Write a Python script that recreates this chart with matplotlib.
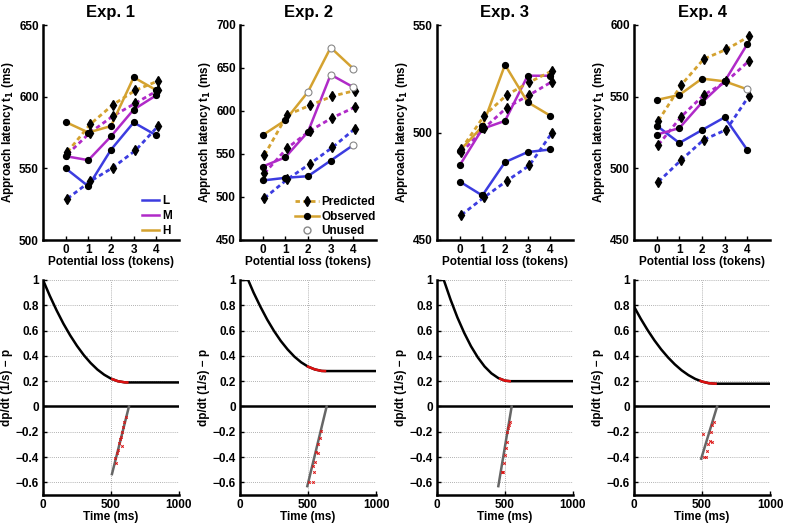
import numpy as np
import matplotlib
matplotlib.use("Agg")
import matplotlib.pyplot as plt
from matplotlib.lines import Line2D

plt.rcParams['font.family'] = ['Liberation Sans', 'DejaVu Sans']
plt.rcParams['font.weight'] = 'bold'
plt.rcParams['mathtext.default'] = 'bf'

# ---------------- data ----------------
titles = ["Exp. 1", "Exp. 2", "Exp. 3", "Exp. 4"]
loss = [0, 1, 2, 3, 4]
conds = ["L", "M", "H"]

obs = {
    1: {"L": [550, 537.5, 563, 582, 573], "M": [558.5, 555.7, 572.3, 591, 601], "H": [582.3, 575, 579.5, 613.5, 604.5]},
    2: {"L": [519.2, 522.3, 524.2, 542.3, 560.4], "M": [535.4, 546.2, 575.8, 642.3, 627.7], "H": [571.9, 589.2, 622.3, 673.8, 649.2]},
    3: {"L": [477.2, 470.7, 486.2, 490.9, 492.1], "M": [484.7, 501.7, 505.4, 526.4, 526.4], "H": [491.5, 502.8, 531.5, 514.1, 507.8]},
    4: {"L": [529.8, 517.7, 526.7, 535.6, 512.8], "M": [523.5, 528.1, 546, 560.7, 586.7], "H": [547.7, 551.2, 562.6, 560.7, 555.1]},
}
pred = {
    1: {"L": [528.9, 540.9, 550.5, 562.5, 579.5], "M": [559.8, 575, 586.4, 595.5, 604.5], "H": [561.4, 580.7, 594.3, 604.5, 611]},
    2: {"L": [498.8, 520.4, 538.5, 557.7, 579.6], "M": [527.7, 556.9, 576.9, 592.3, 604.6], "H": [548.8, 595.4, 606.5, 617.3, 623.8]},
    3: {"L": [461.7, 469.9, 477.5, 484.7, 500], "M": [490.7, 502, 511.6, 517.5, 523.7], "H": [492.4, 507.8, 517.5, 523.4, 528.7]},
    4: {"L": [490.7, 505.8, 520, 527, 550.7], "M": [516.5, 536, 551.2, 560.7, 575.1], "H": [533.3, 558.1, 576.3, 583, 592.1]},
}
# unused observed points: (condition, loss index)
unused = {
    1: [],
    2: [("H", 2), ("H", 3), ("H", 4), ("M", 3), ("M", 4), ("L", 4)],
    3: [],
    4: [("H", 4)],
}
ylims_top = {1: (500, 650), 2: (450, 700), 3: (450, 550), 4: (450, 600)}
yticks_top = {1: [500, 550, 600, 650], 2: [450, 500, 550, 600, 650, 700],
              3: [450, 500, 550], 4: [450, 500, 550, 600]}

# bottom panels: curve readings
curve_t = {
    1: [0, 50, 100, 150, 200, 250, 300, 350, 400, 450, 500, 550, 600, 620, 1000],
    2: [0, 60, 100, 150, 200, 250, 300, 350, 400, 450, 500, 550, 600, 625, 1000],
    3: [0, 50, 100, 150, 200, 250, 300, 350, 400, 450, 500, 535, 1000],
    4: [0, 50, 100, 150, 200, 250, 300, 350, 400, 450, 500, 550, 600, 1000],
}
curve_p = {
    1: [1.0, 0.875, 0.760, 0.655, 0.562, 0.479, 0.406, 0.344, 0.292, 0.251, 0.220, 0.200, 0.191, 0.19, 0.19],
    2: [1.0, 1.0, 0.90, 0.789, 0.687, 0.597, 0.518, 0.451, 0.394, 0.349, 0.315, 0.293, 0.281, 0.28, 0.28],
    3: [1.0, 1.0, 0.844, 0.704, 0.582, 0.476, 0.388, 0.316, 0.262, 0.225, 0.204, 0.20, 0.20],
    4: [0.79, 0.693, 0.604, 0.523, 0.451, 0.388, 0.333, 0.286, 0.248, 0.218, 0.197, 0.184, 0.18, 0.18],
}
red_range = {1: (510, 620), 2: (500, 625), 3: (465, 535), 4: (490, 600)}
fit_t = {1: [507, 632], 2: [495, 637], 3: [451, 549], 4: [494, 611]}
fit_y = {1: [-0.535, 0.0], 2: [-0.63, 0.0], 3: [-0.63, 0.0], 4: [-0.413, 0.0]}
dots_t = {
    1: [612, 596, 588, 580, 570, 565, 560, 578, 552, 545, 540, 533],
    2: [595, 590, 572, 560, 575, 548, 540, 545, 535, 505],
    3: [538, 530, 525, 518, 512, 506, 498, 492, 486, 480],
    4: [585, 575, 566, 572, 511, 558, 545, 540, 528, 515],
}
dots_y = {
    1: [-0.085, -0.12, -0.16, -0.2, -0.24, -0.26, -0.29, -0.31, -0.345, -0.37, -0.45, -0.41],
    2: [-0.19, -0.25, -0.3, -0.36, -0.37, -0.44, -0.47, -0.52, -0.6, -0.6],
    3: [-0.12, -0.15, -0.17, -0.2, -0.28, -0.33, -0.38, -0.45, -0.52, -0.52],
    4: [-0.12, -0.15, -0.2, -0.28, -0.22, -0.27, -0.3, -0.35, -0.4, -0.4],
}

colors = {"L": "#3c3ce0", "M": "#b02ac8", "H": "#d4a230"}
off = 0.08

fig = plt.figure(figsize=(7.86, 5.25), dpi=100)
lefts = [43, 240, 437, 634]
W = 136
for i, e in enumerate([1, 2, 3, 4]):
    ax = fig.add_axes([lefts[i] / 786, 1 - 240 / 525, W / 786, 215 / 525])
    for c in conds:
        xs = np.array(loss, dtype=float)
        ax.plot(xs + off, pred[e][c], color=colors[c], lw=2, ls=(0, (1.6, 1.2)), zorder=2)
        ax.plot(xs, obs[e][c], color=colors[c], lw=1.8, zorder=2)
        ax.plot(xs + off, pred[e][c], ls='none', marker='d', ms=5.5, color='black', zorder=4)
        un = [k for (cc, k) in unused[e] if cc == c]
        used = [k for k in range(5) if k not in un]
        ax.plot(xs[used], np.array(obs[e][c])[used], ls='none', marker='o', ms=4.2, color='black', zorder=4)
        if un:
            ax.plot(xs[un], np.array(obs[e][c])[un], ls='none', marker='o', ms=5, mfc='white', mec='#888888', mew=0.8, zorder=5)
    ax.set_xlim(-1, 5)
    ax.set_ylim(*ylims_top[e])
    ax.set_xticks(loss)
    ax.set_yticks(yticks_top[e])
    ax.spines['top'].set_visible(False)
    ax.spines['right'].set_visible(False)
    ax.spines['left'].set_linewidth(1.8)
    ax.spines['bottom'].set_linewidth(1.8)
    ax.tick_params(direction='in', length=3, width=1, labelsize=8.5, pad=3)
    for lab in ax.get_xticklabels() + ax.get_yticklabels():
        lab.set_fontweight('bold')
    ax.set_xlabel("Potential loss (tokens)", fontsize=8.5, fontweight='bold', labelpad=0)
    ax.set_ylabel(r"Approach latency t$_\mathbf{1}$ (ms)", fontsize=8.5, fontweight='bold', labelpad=2)
    ax.set_title(titles[i], fontsize=12, fontweight='bold', pad=6)
    if e == 1:
        hs = [Line2D([], [], color=colors[c], lw=1.8) for c in conds]
        ax.legend(hs, conds, loc='lower right', frameon=False, fontsize=8.5,
                  handlelength=1.4, handletextpad=0.3, labelspacing=0.25,
                  bbox_to_anchor=(1.0, -0.02), borderaxespad=0.2)
    if e == 2:
        hs = [Line2D([], [], color=colors["H"], lw=2, ls=(0, (1.6, 1.2)), marker='d', mfc='black', mec='black', ms=5.5),
              Line2D([], [], color=colors["H"], lw=1.8, marker='o', mfc='black', mec='black', ms=4.2),
              Line2D([], [], ls='none', marker='o', mfc='white', mec='#888888', ms=5)]
        ax.legend(hs, ["Predicted", "Observed", "Unused"], loc='lower right', frameon=False, fontsize=8.5,
                  handlelength=2.0, handletextpad=0.2, labelspacing=0.2,
                  bbox_to_anchor=(1.05, -0.02), borderaxespad=0.2)

    # bottom panel
    bx = fig.add_axes([lefts[i] / 786, 1 - 495 / 525, W / 786, 215 / 525])
    bx.grid(True, ls=(0, (1, 1.5)), color='#999999', lw=0.6)
    bx.axhline(0, color='black', lw=1.8, zorder=3)
    t = np.array(curve_t[e], dtype=float)
    p = np.array(curve_p[e], dtype=float)
    bx.plot(t, p, color='black', lw=1.8, zorder=3)
    r0, r1 = red_range[e]
    m = (t >= r0) & (t <= r1)
    tr = np.concatenate([[r0], t[m], [r1]])
    pr = np.interp(tr, t, p)
    bx.plot(tr, pr, color='#dd1111', lw=1.8, zorder=4)
    bx.plot(fit_t[e], fit_y[e], color='#666666', lw=1.8, zorder=4)
    bx.plot(dots_t[e], dots_y[e], ls='none', marker='x', ms=1.8, mew=0.7, color='#dd1111', zorder=5)
    bx.set_xlim(0, 1000)
    bx.set_ylim(-0.7, 1.0)
    bx.set_xticks([0, 500, 1000])
    bx.set_yticks([-0.6, -0.4, -0.2, 0, 0.2, 0.4, 0.6, 0.8, 1])
    bx.set_yticklabels(["\u22120.6", "\u22120.4", "\u22120.2", "0", "0.2", "0.4", "0.6", "0.8", "1"])
    bx.spines['top'].set_visible(False)
    bx.spines['right'].set_visible(False)
    bx.spines['left'].set_linewidth(1.8)
    bx.spines['bottom'].set_linewidth(1.8)
    bx.tick_params(direction='in', length=3, width=1, labelsize=8.5, pad=3)
    for lab in bx.get_xticklabels() + bx.get_yticklabels():
        lab.set_fontweight('bold')
    bx.set_xlabel("Time (ms)", fontsize=8.5, fontweight='bold', labelpad=0)
    bx.set_ylabel("dp/dt (1/s) \u2212 p", fontsize=8.5, fontweight='bold', labelpad=2)

fig.savefig("out.png", dpi=100)
